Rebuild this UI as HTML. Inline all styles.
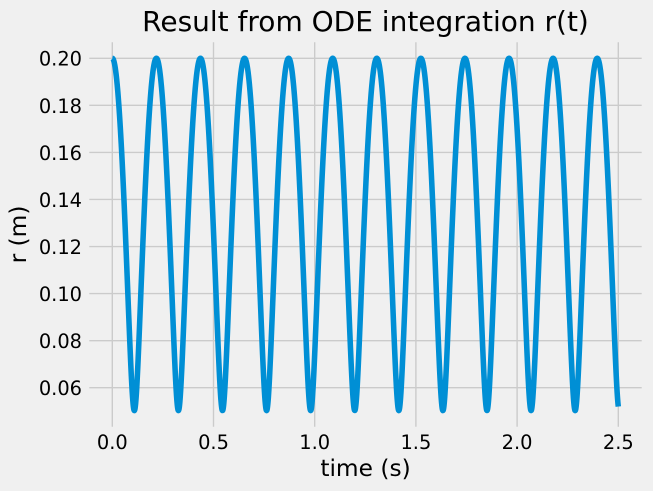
<!DOCTYPE html>
<html>
<head>
<meta charset="utf-8">
<style>
  html, body { margin: 0; padding: 0; background: #f0f0f0; }
  body { width: 653px; height: 491px; overflow: hidden; }
  svg { display: block; }
  text { font-family: "DejaVu Sans", "Liberation Sans", sans-serif; fill: #000; }
</style>
</head>
<body>
<svg width="653" height="491" viewBox="0 0 653 491" xmlns="http://www.w3.org/2000/svg">
  <rect x="0" y="0" width="653" height="491" fill="#f0f0f0"/>
  <defs>
    <clipPath id="ax">
      <rect x="87.8" y="40.8" width="555.4" height="387.4"/>
    </clipPath>
  </defs>
  <!-- grid -->
  <g stroke="#cbcbcb" stroke-width="1.39" fill="none">
    <line x1="112.3" y1="42.3" x2="112.3" y2="426.7"/>
    <line x1="213.5" y1="42.3" x2="213.5" y2="426.7"/>
    <line x1="314.7" y1="42.3" x2="314.7" y2="426.7"/>
    <line x1="415.9" y1="42.3" x2="415.9" y2="426.7"/>
    <line x1="517.1" y1="42.3" x2="517.1" y2="426.7"/>
    <line x1="618.3" y1="42.3" x2="618.3" y2="426.7"/>

    <line x1="89.3" y1="58.3" x2="641.7" y2="58.3"/>
    <line x1="89.3" y1="105.36" x2="641.7" y2="105.36"/>
    <line x1="89.3" y1="152.42" x2="641.7" y2="152.42"/>
    <line x1="89.3" y1="199.48" x2="641.7" y2="199.48"/>
    <line x1="89.3" y1="246.54" x2="641.7" y2="246.54"/>
    <line x1="89.3" y1="293.6" x2="641.7" y2="293.6"/>
    <line x1="89.3" y1="340.66" x2="641.7" y2="340.66"/>
    <line x1="89.3" y1="387.7" x2="641.7" y2="387.7"/>
  </g>

  <!-- curve -->
  <path id="curve" d="" fill="none" stroke="#008fd5" stroke-width="5.56" stroke-linecap="butt" stroke-linejoin="round" clip-path="url(#ax)"/>

  <!-- y tick labels -->
  <g font-size="19.4" text-anchor="end">
    <text x="82" y="65.7">0.20</text>
    <text x="82" y="112.76">0.18</text>
    <text x="82" y="159.82">0.16</text>
    <text x="82" y="206.88">0.14</text>
    <text x="82" y="253.94">0.12</text>
    <text x="82" y="301.0">0.10</text>
    <text x="82" y="348.06">0.08</text>
    <text x="82" y="395.1">0.06</text>
  </g>

  <!-- x tick labels -->
  <g font-size="19.4" text-anchor="middle">
    <text x="112.3" y="449">0.0</text>
    <text x="213.5" y="449">0.5</text>
    <text x="314.7" y="449">1.0</text>
    <text x="415.9" y="449">1.5</text>
    <text x="517.1" y="449">2.0</text>
    <text x="618.3" y="449">2.5</text>
  </g>

  <!-- axis labels -->
  <text x="365.5" y="476" font-size="23.3" text-anchor="middle">time (s)</text>
  <text x="0" y="0" font-size="23.3" text-anchor="middle" transform="translate(26,234.5) rotate(-90)">r (m)</text>

  <!-- title -->
  <text x="365.5" y="31" font-size="28" text-anchor="middle">Result from ODE integration r(t)</text>
</svg>
<script>
(function(){
  var T=0.2178, a=0.2, b=0.0503, N=3000, d='';
  for (var i=0;i<=N;i++){
    var t=2.5*i/N;
    var th=Math.PI*t/T;
    var c=Math.cos(th), s=Math.sin(th);
    var r=Math.sqrt(a*a*c*c+b*b*s*s);
    var x=112.3+202.4*t, y=58.3+(0.2-r)*2353;
    d+=(i?'L':'M')+x.toFixed(2)+' '+y.toFixed(2);
  }
  document.getElementById('curve').setAttribute('d',d);
})();
</script>
</body>
</html>
